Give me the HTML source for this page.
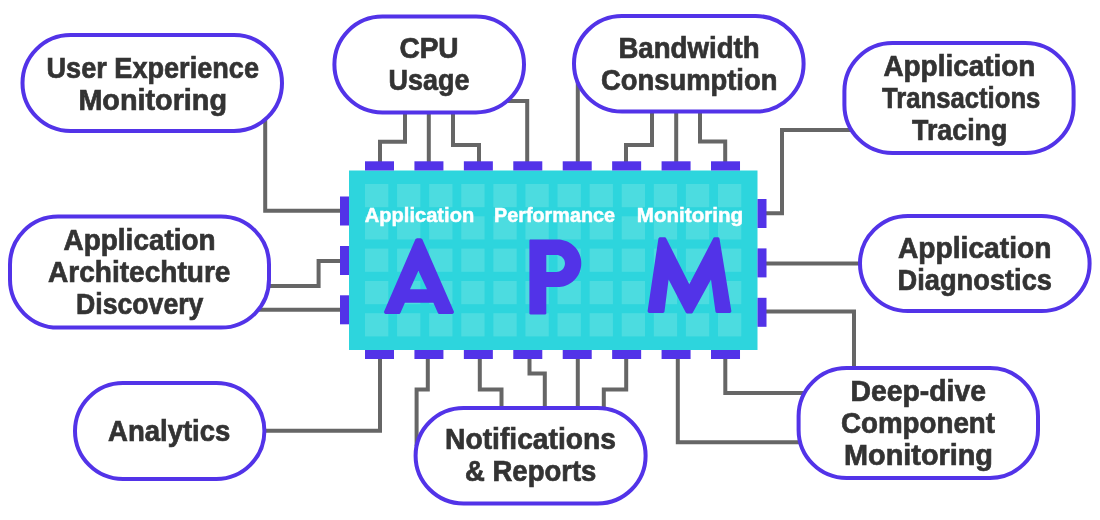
<!DOCTYPE html>
<html><head><meta charset="utf-8"><title>APM</title>
<style>html,body{margin:0;padding:0;background:#fff;width:1100px;height:520px;overflow:hidden}svg{display:block;will-change:transform}</style>
</head><body>
<svg width="1100" height="520" viewBox="0 0 1100 520" style="font-family:'Liberation Sans',sans-serif">
<rect width="1100" height="520" fill="#fff"/>
<g fill="none" stroke="#666666" stroke-width="4" stroke-linejoin="miter" stroke-linecap="butt">
<path d="M380,163 V141.8 H405 V100"/>
<path d="M428.8,163 V100"/>
<path d="M479,163 V145 H453 V100"/>
<path d="M527.2,163 V101 H500"/>
<path d="M577.8,163 V60"/>
<path d="M626,163 V145 H652 V100"/>
<path d="M676.2,163 V100"/>
<path d="M725.2,163 V141.6 H700 V100"/>
<path d="M765,213.2 H782 V130 H860"/>
<path d="M765,263.6 H870"/>
<path d="M765,311.6 H854 V380"/>
<path d="M341,210.8 H265.2 V112"/>
<path d="M341,261 H318.6 V286 H250"/>
<path d="M341,309.8 H250"/>
<path d="M380,358 V430.8 H250"/>
<path d="M427.8,358 V389.6 H416.6 V446"/>
<path d="M479.8,358 V389.6 H501.5 V420"/>
<path d="M529.5,358 V373.6 H544.8 V420"/>
<path d="M577.8,358 V420"/>
<path d="M626.2,358 V389.6 H603.8 V420"/>
<path d="M677.8,358 V442.2 H810"/>
<path d="M725.3,358 V393 H810"/>
</g>
<rect x="349" y="170.5" width="408.5" height="179.5" fill="#2DD5DD"/>
<g fill="#4CDCE0">
<rect x="365.00" y="184.00" width="23.3" height="23.2"/>
<rect x="397.09" y="184.00" width="23.3" height="23.2"/>
<rect x="429.18" y="184.00" width="23.3" height="23.2"/>
<rect x="461.27" y="184.00" width="23.3" height="23.2"/>
<rect x="493.36" y="184.00" width="23.3" height="23.2"/>
<rect x="525.45" y="184.00" width="23.3" height="23.2"/>
<rect x="557.54" y="184.00" width="23.3" height="23.2"/>
<rect x="589.63" y="184.00" width="23.3" height="23.2"/>
<rect x="621.72" y="184.00" width="23.3" height="23.2"/>
<rect x="653.81" y="184.00" width="23.3" height="23.2"/>
<rect x="685.90" y="184.00" width="23.3" height="23.2"/>
<rect x="717.99" y="184.00" width="23.3" height="23.2"/>
<rect x="365.00" y="216.30" width="23.3" height="23.2"/>
<rect x="397.09" y="216.30" width="23.3" height="23.2"/>
<rect x="429.18" y="216.30" width="23.3" height="23.2"/>
<rect x="461.27" y="216.30" width="23.3" height="23.2"/>
<rect x="493.36" y="216.30" width="23.3" height="23.2"/>
<rect x="525.45" y="216.30" width="23.3" height="23.2"/>
<rect x="557.54" y="216.30" width="23.3" height="23.2"/>
<rect x="589.63" y="216.30" width="23.3" height="23.2"/>
<rect x="621.72" y="216.30" width="23.3" height="23.2"/>
<rect x="653.81" y="216.30" width="23.3" height="23.2"/>
<rect x="685.90" y="216.30" width="23.3" height="23.2"/>
<rect x="717.99" y="216.30" width="23.3" height="23.2"/>
<rect x="365.00" y="248.60" width="23.3" height="23.2"/>
<rect x="397.09" y="248.60" width="23.3" height="23.2"/>
<rect x="429.18" y="248.60" width="23.3" height="23.2"/>
<rect x="461.27" y="248.60" width="23.3" height="23.2"/>
<rect x="493.36" y="248.60" width="23.3" height="23.2"/>
<rect x="525.45" y="248.60" width="23.3" height="23.2"/>
<rect x="557.54" y="248.60" width="23.3" height="23.2"/>
<rect x="589.63" y="248.60" width="23.3" height="23.2"/>
<rect x="621.72" y="248.60" width="23.3" height="23.2"/>
<rect x="653.81" y="248.60" width="23.3" height="23.2"/>
<rect x="685.90" y="248.60" width="23.3" height="23.2"/>
<rect x="717.99" y="248.60" width="23.3" height="23.2"/>
<rect x="365.00" y="281.00" width="23.3" height="23.2"/>
<rect x="397.09" y="281.00" width="23.3" height="23.2"/>
<rect x="429.18" y="281.00" width="23.3" height="23.2"/>
<rect x="461.27" y="281.00" width="23.3" height="23.2"/>
<rect x="493.36" y="281.00" width="23.3" height="23.2"/>
<rect x="525.45" y="281.00" width="23.3" height="23.2"/>
<rect x="557.54" y="281.00" width="23.3" height="23.2"/>
<rect x="589.63" y="281.00" width="23.3" height="23.2"/>
<rect x="621.72" y="281.00" width="23.3" height="23.2"/>
<rect x="653.81" y="281.00" width="23.3" height="23.2"/>
<rect x="685.90" y="281.00" width="23.3" height="23.2"/>
<rect x="717.99" y="281.00" width="23.3" height="23.2"/>
<rect x="365.00" y="313.20" width="23.3" height="23.2"/>
<rect x="397.09" y="313.20" width="23.3" height="23.2"/>
<rect x="429.18" y="313.20" width="23.3" height="23.2"/>
<rect x="461.27" y="313.20" width="23.3" height="23.2"/>
<rect x="493.36" y="313.20" width="23.3" height="23.2"/>
<rect x="525.45" y="313.20" width="23.3" height="23.2"/>
<rect x="557.54" y="313.20" width="23.3" height="23.2"/>
<rect x="589.63" y="313.20" width="23.3" height="23.2"/>
<rect x="621.72" y="313.20" width="23.3" height="23.2"/>
<rect x="653.81" y="313.20" width="23.3" height="23.2"/>
<rect x="685.90" y="313.20" width="23.3" height="23.2"/>
<rect x="717.99" y="313.20" width="23.3" height="23.2"/>
</g>
<g fill="#5233E8">
<rect x="365.00" y="161.3" width="29" height="9.2"/>
<rect x="365.00" y="350" width="29" height="9"/>
<rect x="414.43" y="161.3" width="29" height="9.2"/>
<rect x="414.43" y="350" width="29" height="9"/>
<rect x="463.86" y="161.3" width="29" height="9.2"/>
<rect x="463.86" y="350" width="29" height="9"/>
<rect x="513.29" y="161.3" width="29" height="9.2"/>
<rect x="513.29" y="350" width="29" height="9"/>
<rect x="562.72" y="161.3" width="29" height="9.2"/>
<rect x="562.72" y="350" width="29" height="9"/>
<rect x="612.15" y="161.3" width="29" height="9.2"/>
<rect x="612.15" y="350" width="29" height="9"/>
<rect x="661.58" y="161.3" width="29" height="9.2"/>
<rect x="661.58" y="350" width="29" height="9"/>
<rect x="711.01" y="161.3" width="29" height="9.2"/>
<rect x="711.01" y="350" width="29" height="9"/>
<rect x="340" y="196.5" width="9" height="29"/>
<rect x="340" y="246" width="9" height="29"/>
<rect x="340" y="295.3" width="9" height="29"/>
<rect x="757.5" y="199" width="9" height="29"/>
<rect x="757.5" y="248.4" width="9" height="29"/>
<rect x="757.5" y="297.8" width="9" height="29"/>
</g>
<g fill="#5233E8">
<path d="M384.21,311.20 L384.07,311.68 L384.05,312.17 L384.16,312.65 L384.37,313.10 L384.69,313.47 L385.10,313.76 L385.56,313.94 L386.05,314.00 L398.69,314.00 L399.26,313.92 L399.78,313.67 L400.22,313.29 L400.52,312.80 L404.90,302.70 L433.40,302.70 L437.78,312.80 L438.08,313.29 L438.52,313.67 L439.04,313.92 L439.61,314.00 L451.94,314.00 L452.43,313.94 L452.89,313.76 L453.30,313.47 L453.62,313.09 L453.83,312.65 L453.94,312.17 L453.92,311.67 L453.78,311.20 L422.42,239.50 L422.12,239.01 L421.69,238.63 L421.16,238.38 L420.59,238.30 L417.11,238.30 L416.54,238.38 L416.02,238.63 L415.58,239.01 L415.28,239.50 Z M427.00,289.20 L410.00,289.20 L418.40,270.80 Z"/>
<path d="M529.40,313.40 L529.43,313.66 L529.53,313.90 L529.69,314.11 L529.90,314.27 L530.14,314.37 L530.40,314.40 L545.30,314.40 L545.56,314.37 L545.80,314.27 L546.01,314.11 L546.17,313.90 L546.27,313.66 L546.30,313.40 L546.30,287.10 L557.48,287.10 L557.52,287.10 L559.33,287.03 L559.41,287.02 L561.18,286.81 L561.26,286.80 L563.02,286.45 L563.09,286.43 L564.82,285.95 L564.89,285.92 L566.57,285.30 L566.64,285.27 L568.27,284.52 L568.34,284.49 L569.90,283.61 L569.97,283.57 L571.46,282.58 L571.52,282.53 L572.93,281.42 L572.99,281.37 L574.30,280.16 L574.36,280.10 L575.57,278.79 L575.62,278.73 L576.73,277.32 L576.78,277.26 L577.77,275.77 L577.81,275.70 L578.69,274.14 L578.72,274.07 L579.47,272.44 L579.50,272.37 L580.12,270.69 L580.15,270.62 L580.63,268.89 L580.65,268.82 L581.00,267.06 L581.01,266.98 L581.22,265.21 L581.23,265.13 L581.30,263.34 L581.30,263.26 L581.23,261.47 L581.22,261.39 L581.01,259.62 L581.00,259.54 L580.65,257.78 L580.63,257.71 L580.15,255.98 L580.12,255.91 L579.50,254.23 L579.47,254.16 L578.72,252.53 L578.69,252.46 L577.81,250.90 L577.77,250.83 L576.78,249.34 L576.73,249.28 L575.62,247.87 L575.57,247.81 L574.36,246.50 L574.30,246.44 L572.99,245.23 L572.93,245.18 L571.52,244.07 L571.46,244.02 L569.97,243.03 L569.90,242.99 L568.34,242.11 L568.27,242.08 L566.64,241.33 L566.57,241.30 L564.89,240.68 L564.82,240.65 L563.09,240.17 L563.02,240.15 L561.26,239.80 L561.18,239.79 L559.41,239.58 L559.33,239.57 L557.52,239.50 L557.48,239.50 L530.40,239.50 L530.14,239.53 L529.90,239.63 L529.69,239.79 L529.53,240.00 L529.43,240.24 L529.40,240.50 Z M556.50,255.00 L557.82,255.10 L559.11,255.41 L560.34,255.92 L561.47,256.61 L562.48,257.47 L563.34,258.48 L564.03,259.61 L564.54,260.84 L564.85,262.13 L564.95,263.45 L564.85,264.77 L564.54,266.06 L564.03,267.29 L563.34,268.42 L562.48,269.43 L561.47,270.29 L560.34,270.98 L559.11,271.49 L557.82,271.80 L556.50,271.90 L546.30,271.90 L546.30,255.00 Z"/>
<path d="M647.64,310.81 L647.63,311.30 L647.74,311.77 L647.96,312.21 L648.28,312.58 L648.68,312.86 L649.13,313.04 L649.62,313.10 L662.54,313.10 L663.02,313.04 L663.47,312.87 L663.86,312.60 L664.18,312.24 L664.41,311.82 L664.52,311.35 L668.60,279.60 L685.74,312.43 L686.05,312.87 L686.48,313.21 L686.97,313.43 L687.51,313.50 L691.12,313.50 L691.65,313.43 L692.14,313.22 L692.55,312.89 L692.87,312.47 L711.00,279.60 L715.46,311.38 L715.62,311.93 L715.92,312.41 L716.36,312.78 L716.87,313.02 L717.44,313.10 L729.35,313.10 L729.84,313.04 L730.30,312.86 L730.70,312.57 L731.02,312.20 L731.24,311.75 L731.34,311.27 L731.32,310.78 L719.57,238.88 L719.41,238.34 L719.10,237.87 L718.67,237.51 L718.16,237.28 L717.60,237.20 L715.01,237.20 L714.48,237.27 L713.98,237.49 L713.55,237.83 L713.24,238.28 L689.30,284.30 L666.15,238.30 L665.84,237.85 L665.42,237.50 L664.91,237.28 L664.37,237.20 L660.32,237.20 L659.76,237.28 L659.25,237.52 L658.82,237.89 L658.51,238.36 L658.35,238.91 Z"/>
</g>
<g font-family="Liberation Sans, sans-serif" font-weight="bold">
<text x="364.8" y="222.4" textLength="109.4" lengthAdjust="spacingAndGlyphs" font-size="20.5" fill="#FFFFFF" stroke="#FFFFFF" stroke-width="0.5">Application</text>
<text x="494" y="222.4" textLength="121" lengthAdjust="spacingAndGlyphs" font-size="20.5" fill="#FFFFFF" stroke="#FFFFFF" stroke-width="0.5">Performance</text>
<text x="636.8" y="221.6" textLength="106.4" lengthAdjust="spacingAndGlyphs" font-size="20.5" fill="#FFFFFF" stroke="#FFFFFF" stroke-width="0.5">Monitoring</text>
</g>
<g fill="#FFFFFF" stroke="#5233E8" stroke-width="4">
<rect x="22.5" y="35" width="259.5" height="96" rx="48" ry="48"/>
<rect x="334.4" y="16.6" width="189.6" height="95.8" rx="48" ry="48"/>
<rect x="574" y="16" width="229.6" height="95.6" rx="48" ry="48"/>
<rect x="844.4" y="43" width="229.2" height="110" rx="48" ry="48"/>
<rect x="10" y="216.6" width="259" height="111" rx="48" ry="48"/>
<rect x="860" y="216" width="229.6" height="95" rx="48" ry="48"/>
<rect x="75" y="383" width="189.4" height="96" rx="48" ry="48"/>
<rect x="415.6" y="408" width="230" height="95.5" rx="48" ry="48"/>
<rect x="798.6" y="368" width="239.4" height="110" rx="48" ry="48"/>
</g>
<g font-family="Liberation Sans, sans-serif" font-weight="bold" fill="#333333">
<text x="46.5" y="77.5" textLength="212.5" lengthAdjust="spacingAndGlyphs" font-size="29" fill="#333333" stroke="#333333" stroke-width="0.7">User Experience</text>
<text x="78.4" y="109.5" textLength="148.6" lengthAdjust="spacingAndGlyphs" font-size="29" fill="#333333" stroke="#333333" stroke-width="0.7">Monitoring</text>
<text x="399.4" y="58.1" textLength="59.2" lengthAdjust="spacingAndGlyphs" font-size="29" fill="#333333" stroke="#333333" stroke-width="0.7">CPU</text>
<text x="388.6" y="89.5" textLength="80.8" lengthAdjust="spacingAndGlyphs" font-size="29" fill="#333333" stroke="#333333" stroke-width="0.7">Usage</text>
<text x="618.4" y="57.5" textLength="141.2" lengthAdjust="spacingAndGlyphs" font-size="29" fill="#333333" stroke="#333333" stroke-width="0.7">Bandwidth</text>
<text x="601" y="89.5" textLength="176.4" lengthAdjust="spacingAndGlyphs" font-size="29" fill="#333333" stroke="#333333" stroke-width="0.7">Consumption</text>
<text x="883.4" y="75.5" textLength="152" lengthAdjust="spacingAndGlyphs" font-size="29" fill="#333333" stroke="#333333" stroke-width="0.7">Application</text>
<text x="882" y="107.9" textLength="158.4" lengthAdjust="spacingAndGlyphs" font-size="29" fill="#333333" stroke="#333333" stroke-width="0.7">Transactions</text>
<text x="912" y="139.5" textLength="95.4" lengthAdjust="spacingAndGlyphs" font-size="29" fill="#333333" stroke="#333333" stroke-width="0.7">Tracing</text>
<text x="63.6" y="249.5" textLength="152" lengthAdjust="spacingAndGlyphs" font-size="29" fill="#333333" stroke="#333333" stroke-width="0.7">Application</text>
<text x="48" y="281.9" textLength="182.4" lengthAdjust="spacingAndGlyphs" font-size="29" fill="#333333" stroke="#333333" stroke-width="0.7">Architechture</text>
<text x="76" y="313.9" textLength="127.4" lengthAdjust="spacingAndGlyphs" font-size="29" fill="#333333" stroke="#333333" stroke-width="0.7">Discovery</text>
<text x="898" y="257.5" textLength="153.4" lengthAdjust="spacingAndGlyphs" font-size="29" fill="#333333" stroke="#333333" stroke-width="0.7">Application</text>
<text x="897.6" y="289.5" textLength="154.4" lengthAdjust="spacingAndGlyphs" font-size="29" fill="#333333" stroke="#333333" stroke-width="0.7">Diagnostics</text>
<text x="108" y="440.5" textLength="122.4" lengthAdjust="spacingAndGlyphs" font-size="29" fill="#333333" stroke="#333333" stroke-width="0.7">Analytics</text>
<text x="445" y="448.5" textLength="171" lengthAdjust="spacingAndGlyphs" font-size="29" fill="#333333" stroke="#333333" stroke-width="0.7">Notifications</text>
<text x="465" y="480.5" textLength="131.4" lengthAdjust="spacingAndGlyphs" font-size="29" fill="#333333" stroke="#333333" stroke-width="0.7">&amp; Reports</text>
<text x="850.6" y="400.5" textLength="135.4" lengthAdjust="spacingAndGlyphs" font-size="29" fill="#333333" stroke="#333333" stroke-width="0.7">Deep-dive</text>
<text x="841" y="432.8" textLength="154" lengthAdjust="spacingAndGlyphs" font-size="29" fill="#333333" stroke="#333333" stroke-width="0.7">Component</text>
<text x="844" y="465.1" textLength="149" lengthAdjust="spacingAndGlyphs" font-size="29" fill="#333333" stroke="#333333" stroke-width="0.7">Monitoring</text>
</g>
</svg>
</body></html>
